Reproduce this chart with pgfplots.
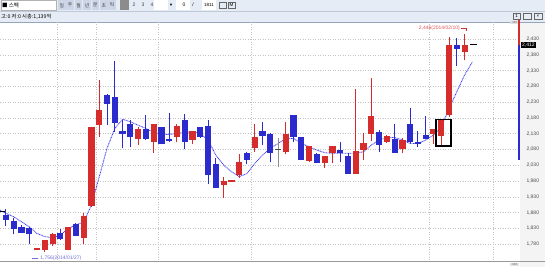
\documentclass[border=0pt]{standalone}
\usepackage{pgfplots}
\pgfplotsset{compat=1.18}
\usepackage{pgfplotstable}
\usepackage{fontspec}
\setmainfont{Liberation Sans}
\newfontfamily\kr{Noto Sans CJK KR}
\definecolor{cRed}{RGB}{214,44,44}
\definecolor{cBlue}{RGB}{44,44,206}
\definecolor{maBlue}{RGB}{60,60,240}
\definecolor{gridc}{RGB}{195,195,195}
\definecolor{barbg}{RGB}{230,236,246}
\definecolor{barline}{RGB}{150,165,190}
\definecolor{btn}{RGB}{205,214,230}
\definecolor{panel}{RGB}{244,244,244}
\definecolor{annBlue}{RGB}{110,110,215}

\pgfplotstableread{
i o h l c
5 1762 1767 1762 1767
6 1761 1793 1756 1793
7 1780 1814 1775 1811
9 1761 1836 1761 1833
11 1801 1878 1781 1869
12 1901 2152 1899 2150
13 2157 2300 2120 2205
18 2113 2152 2094 2145
20 2105 2161 2070 2161
23 2120 2160 2103 2154
25 2110 2138 2097 2138
29 1969 1992 1928 1980
30 1978 1984 1978 1984
31 1998 2065 1991 2039
33 2084 2161 2073 2119
37 2073 2166 2065 2129
40 2043 2092 2041 2092
42 2038 2059 2022 2059
43 2070 2091 2038 2091
46 2003 2272 2003 2075
47 2078 2131 2048 2101
48 2129 2307 2108 2187
50 2104 2126 2101 2124
52 2081 2115 2069 2110
56 2129 2144 2099 2144
57 2124 2173 2094 2173
58 2189 2435 2184 2411
60 2390 2446 2363 2412
}\up

\pgfplotstableread{
i o h l c
1 1874 1893 1838 1856
2 1853 1864 1811 1828
3 1833 1841 1814 1817
4 1832 1835 1782 1812
8 1817 1828 1793 1798
10 1843 1847 1805 1807
14 2253 2256 2157 2224
15 2246 2361 2136 2165
16 2138 2173 2084 2129
17 2161 2173 2089 2119
19 2145 2189 2110 2113
21 2150 2152 2096 2098
22 2113 2195 2105 2108
24 2175 2194 2081 2105
26 2150 2151 2117 2119
27 2154 2175 1970 1998
28 2034 2052 1959 1959
32 2070 2073 2033 2048
34 2140 2166 2094 2124
35 2129 2133 2039 2070
38 2189 2189 2105 2120
39 2119 2119 2047 2047
41 2065 2068 2038 2038
44 2080 2104 2039 2070
45 2059 2070 2003 2003
49 2135 2142 2071 2094
51 2113 2160 2070 2070
53 2161 2213 2101 2104
54 2104 2138 2088 2099
55 2125 2186 2114 2114
59 2410 2432 2345 2400
}\down

\pgfplotstableread{
i o h l c
36 2079 2115 2025 2082
}\doji

\pgfplotsset{
  wick/.style={only marks, mark=*, mark size=0pt, mark options={draw=none, fill=none}, forget plot,
    error bars/.cd, y dir=plus, y explicit, error mark=none,
    error bar style={line width=1pt, #1}},
  body/.style={only marks, mark=*, mark size=0pt, mark options={draw=none, fill=none}, forget plot,
    error bars/.cd, y dir=plus, y explicit, error mark=none,
    error bar style={line width=6.2pt, #1}},
}

\begin{document}
\begin{tikzpicture}[x=1pt,y=1pt]
\useasboundingbox (0,0) rectangle (545,267);
\fill[white] (0,0) rectangle (545,267);
\fill[panel] (520,0) rectangle (545,245);
% header rows
\fill[barbg] (0,245) rectangle (545,267);
\draw[barline!60, line width=0.4pt] (0,256) -- (545,256);
\draw[barline, line width=0.8pt] (0,245) -- (545,245);
% search box
\fill[white] (1,257) rectangle (56,266.5);
\draw[gray!60, line width=0.4pt] (1,257) rectangle (56,266.5);
\node[anchor=west, inner sep=0pt, font=\kr\fontsize{5.5}{6}\selectfont] at (2,261.8) {■ 스펙};
% period buttons
\foreach \k/\t in {0/일,1/주,2/월,3/년,4/분,5/초,6/틱}{
  \fill[btn] (58+8.4*\k,257) rectangle (57.6+8.4*\k+8,266.5);
  \node[inner sep=0pt, font=\kr\fontsize{4.8}{5}\selectfont, text=black!75] at (61.8+8.4*\k,261.8) {\t};
}
\fill[black!45] (120,257) rectangle (129,266.5);
\foreach \k/\t in {1/2,2/3,3/4}{
  \node[inner sep=0pt, font=\fontsize{5}{5}\selectfont, text=black!75] at (125+9*\k,261.8) {\t};
}
\fill[white] (154,257) rectangle (168,266.5);
\node[inner sep=0pt, font=\fontsize{4}{4}\selectfont] at (171,261.8) {▼};
\fill[white] (176,257) rectangle (190,266.5);
\node[inner sep=0pt, font=\fontsize{5}{5}\selectfont] at (184,261.8) {0};
\node[inner sep=0pt, font=\fontsize{5}{5}\selectfont] at (193,261.8) {/};
\fill[white] (202,257) rectangle (216,266.5);
\node[inner sep=0pt, font=\fontsize{4.5}{5}\selectfont] at (209,261.8) {1811};
\draw[black!60, line width=0.5pt] (219,258.5) rectangle (226,265);
\draw[black!60, line width=0.5pt] (228,258.5) rectangle (235,265);
\node[inner sep=0pt, font=\fontsize{4.5}{5}\selectfont] at (231.5,261.8) {M};
% info row
\node[anchor=west, inner sep=0pt, font=\kr\fontsize{5.3}{6}\selectfont] at (1,250.5) {고:0 저:0 시총:1,139억};
\draw[black!60, line width=0.4pt] (513,247.5) rectangle (520,254);
\draw[black!60, line width=0.4pt] (523,247.5) rectangle (531,254);
\draw[black!60, line width=0.4pt] (534,247.5) rectangle (542,254);
\node[inner sep=0pt, font=\fontsize{4.5}{5}\selectfont] at (538,250.8) {×};
\node[inner sep=0pt, font=\fontsize{4.5}{5}\selectfont] at (516.5,250.8) {1};
% small markers
\fill[black!12] (510,243) rectangle (519,246);
\node[inner sep=0pt, font=\fontsize{3}{3}\selectfont, text=black!60] at (514.5,244.5) {=80};
\fill[black!12] (510,1) rectangle (519,4);
\node[inner sep=0pt, font=\fontsize{3}{3}\selectfont, text=black!60] at (514.5,2.5) {=80};

\begin{axis}[
  at={(0pt,7pt)}, anchor=south west, scale only axis,
  width=519pt, height=238pt,
  xmin=0.23, xmax=67, ymin=1730, ymax=2484,
  axis line style={draw=none},
  xtick={7.6,12.6,20.6,32.6,55.4,63.7}, xticklabels={},
  ytick={1780,1830,...,2430},
  yticklabel pos=right,
  major tick length=0pt,
  grid=major,
  grid style={gridc, line width=0.5pt, dash pattern=on 1pt off 1.5pt},
  yticklabel style={font=\fontsize{5}{6}\selectfont, text=black!70, xshift=4pt,
     /pgf/number format/1000 sep={,}, /pgf/number format/assume math mode=true},
  clip=false,
]
% moving average
\addplot[maBlue, line width=0.85pt, dash pattern=on 0.9pt off 0.7pt] coordinates {
(0.23,1888) (1,1878) (2,1867) (3,1851) (4,1835) (5,1814) (6,1804) (7,1801) (8,1809)
(9,1830) (10,1841) (11,1851) (12,1904) (13,1994) (14,2084) (15,2147) (16,2176)
(17,2168) (18,2157) (19,2147) (20,2134) (21,2128) (22,2128) (23,2131) (24,2134)
(25,2136) (26,2131) (27,2110) (28,2062) (29,2031) (30,2010) (31,1994) (32,2004)
(33,2036) (34,2062) (35,2084) (36,2099) (37,2115) (38,2115) (39,2099) (40,2089)
(41,2078) (42,2070) (43,2068) (44,2068) (45,2068) (46,2068) (47,2073) (48,2094)
(49,2110) (50,2118) (51,2118) (52,2110) (53,2099) (54,2099) (55,2110) (56,2126)
(57,2152) (58,2210) (59,2263) (60,2316) (61,2358)
};
% candles
\addplot[wick=cRed] table[x=i, y=l, y error expr=\thisrow{h}-\thisrow{l}] {\up};
\addplot[body=cRed] table[x=i, y=o, y error expr=\thisrow{c}-\thisrow{o}] {\up};
\addplot[wick=cBlue] table[x=i, y=l, y error expr=\thisrow{h}-\thisrow{l}] {\down};
\addplot[body=cBlue] table[x=i, y=c, y error expr=\thisrow{o}-\thisrow{c}] {\down};
\addplot[wick=black!45] table[x=i, y=l, y error expr=\thisrow{h}-\thisrow{l}] {\doji};
\addplot[body=black!70] table[x=i, y=o, y error expr=\thisrow{c}-\thisrow{o}] {\doji};
% highlight box
\draw[black, line width=1.4pt] (axis cs:56.3,2091) rectangle (axis cs:58.27,2175);
% current price marks
\draw[black, line width=0.8pt] (axis cs:60.7,2412) -- (axis cs:61.6,2412);
\draw[black, line width=0.6pt] (axis cs:0.23,1883) -- (axis cs:0.9,1883);
% right side price range line
\draw[cRed, line width=1.3pt] (axis cs:67,2412) -- (axis cs:67,2490);
\draw[cBlue, line width=1.3pt] (axis cs:67,2047) -- (axis cs:67,2412);
\fill[black] (axis cs:67,2412) ++(-0.5pt,0) -- ++(-2.5pt,1.5pt) -- ++(0,-3pt) -- cycle;
\node[fill=black, text=white, inner xsep=1pt, inner ysep=0.8pt, anchor=west,
      font=\fontsize{5}{5}\selectfont] at (axis cs:67,2412) [xshift=2pt] {2,412};
% annotations
\node[anchor=east, inner sep=0pt, text=cRed!80, font=\fontsize{5}{5}\selectfont]
  at (axis cs:59.4,2463) {2,446(2014/02/10)};
\draw[cRed, line width=0.5pt] (axis cs:59.6,2463) -- (axis cs:60.2,2463) -- (axis cs:60.2,2457);
\node[anchor=west, inner sep=0pt, text=annBlue, font=\fontsize{5}{5}\selectfont]
  at (axis cs:5.4,1737) {1,756(2014/01/27)};
\draw[annBlue, line width=0.5pt] (axis cs:4.4,1737) -- (axis cs:5.1,1737);
\end{axis}
\draw[black!40, line width=0.8pt] (0,6) -- (545,6);
\end{tikzpicture}
\end{document}
